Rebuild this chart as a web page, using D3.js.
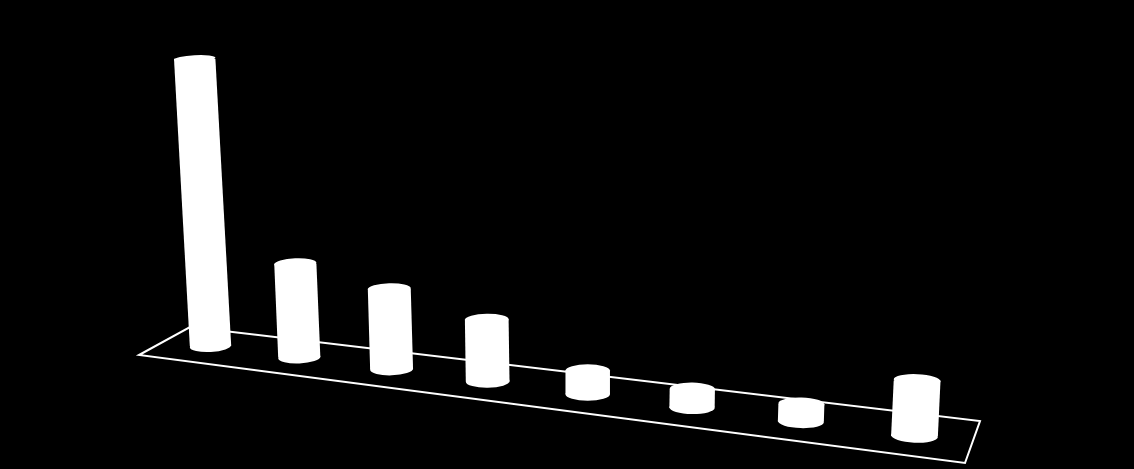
<!DOCTYPE html>
<html>
<head>
<meta charset="utf-8">
<script src="https://cdn.jsdelivr.net/npm/d3@7/dist/d3.min.js"></script>
<style>html,body{margin:0;padding:0;background:#000}svg{display:block}</style>
</head>
<body>
<script>
const categories = ["1", "2", "3", "4", "5", "6", "7", "8"];
const shares = [45.6, 14.6, 12.3, 9.3, 3.5, 2.7, 2.5, 7.8];

const width = 1134, height = 469;
const floorBack = [[190, 327], [980, 421]];
const floorFront = [[965, 463], [139, 355]];

const svg = d3.select("body").append("svg")
  .attr("width", width).attr("height", height)
  .style("background", "#000");

// Position along the floor, with a perspective foreshortening
const depth = d3.scalePoint().domain(categories).range([0, 1]);
const perspective = 0.155;
const along = t => t / (1 + perspective * (1 - t));
const x = d3.scaleLinear().domain([0, 1]).range([210.5, 914.5]);
const baseY = d3.scaleLinear().domain([210.5, 914.5]).range([346, 436]);
const radius = d3.scaleLinear().domain([0, 1]).range([20.7, 23.4]);
const heightScale = d3.scaleLinear().domain([0, 100]).range([0, 630]);
const flatten = d3.scaleLinear().domain([55, 440]).range([3.5, 6.8]);
const lean = d3.scaleLinear().domain([590, 1590]).range([0, 0.145]);

// Floor frame
svg.append("path")
  .attr("d", d3.line()([...floorBack, ...floorFront]) + "Z")
  .attr("fill", "none")
  .attr("stroke", "#fff")
  .attr("stroke-width", 2);

const bars = categories.map((c, i) => {
  const t = depth(c);
  const bx = x(along(t));
  const by = baseY(bx);
  const r = radius(t);
  const h = heightScale(shares[i]) * r / 20.7;
  const k = lean(bx);
  return { bx, by, r, h, k, tx: bx + k * h, ty: by - h, rot: Math.atan(k) * 180 / Math.PI };
});

const g = svg.selectAll("g.bar").data(bars).join("g").attr("class", "bar").attr("fill", "#fff");

g.append("path").attr("d", d => d3.line()([
  [d.tx - d.r, d.ty], [d.tx + d.r, d.ty], [d.bx + d.r, d.by], [d.bx - d.r, d.by]
]) + "Z");

g.append("ellipse")
  .attr("rx", d => d.r).attr("ry", d => flatten(d.ty))
  .attr("transform", d => `translate(${d.tx},${d.ty}) rotate(${d.rot})`);

g.append("ellipse")
  .attr("rx", d => d.r).attr("ry", d => flatten(d.by))
  .attr("transform", d => `translate(${d.bx},${d.by}) rotate(${d.rot})`);
</script>
</body>
</html>
